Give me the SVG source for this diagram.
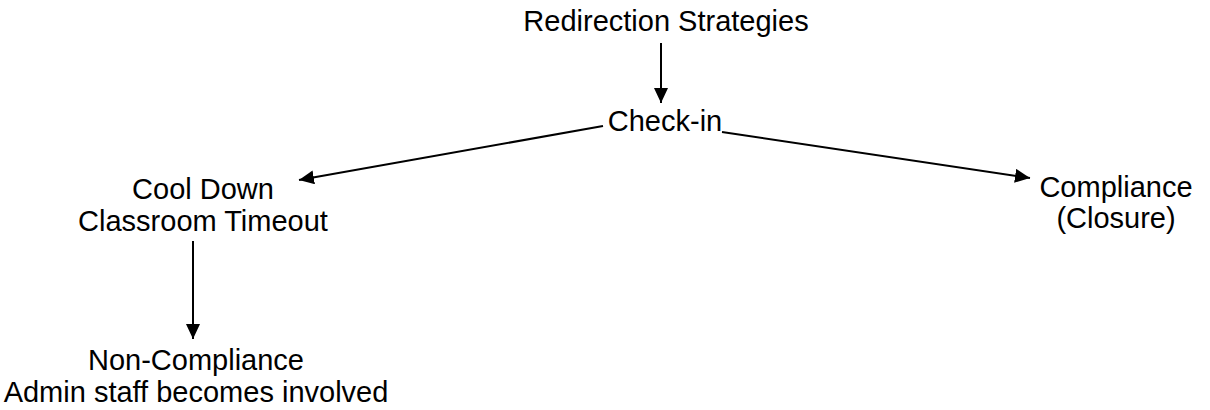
<svg xmlns="http://www.w3.org/2000/svg" width="1210" height="410" viewBox="0 0 1210 410">
<style>
text{font-family:"Liberation Sans",Arial,sans-serif;font-size:29px;fill:#000;text-anchor:middle}
.c{stroke:#000;stroke-width:2;fill:none}
</style>
<defs>
<marker id="ah" markerWidth="15" markerHeight="14" refX="15" refY="7" orient="auto" markerUnits="userSpaceOnUse">
<path d="M0,0 L15,7 L0,14 Z" fill="#000"/>
</marker>
</defs>
<rect width="1210" height="410" fill="#fff"/>
<g id="connectors">
<line class="c" x1="661" y1="43" x2="661" y2="103" marker-end="url(#ah)"/>
<line class="c" x1="603" y1="126" x2="299" y2="180" marker-end="url(#ah)"/>
<line class="c" x1="722" y1="132" x2="1030" y2="178" marker-end="url(#ah)"/>
<line class="c" x1="193" y1="241" x2="193" y2="339" marker-end="url(#ah)"/>
</g>
<g id="redirection"><text x="666" y="31">Redirection Strategies</text></g>
<g id="checkin"><text x="665" y="131">Check-in</text></g>
<g id="cooldown"><text x="203" y="199">Cool Down</text><text x="203" y="231">Classroom Timeout</text></g>
<g id="compliance"><text x="1116" y="197">Compliance</text><text x="1116" y="228">(Closure)</text></g>
<g id="noncompliance"><text x="196" y="370">Non-Compliance</text><text x="196" y="402">Admin staff becomes involved</text></g>
</svg>
